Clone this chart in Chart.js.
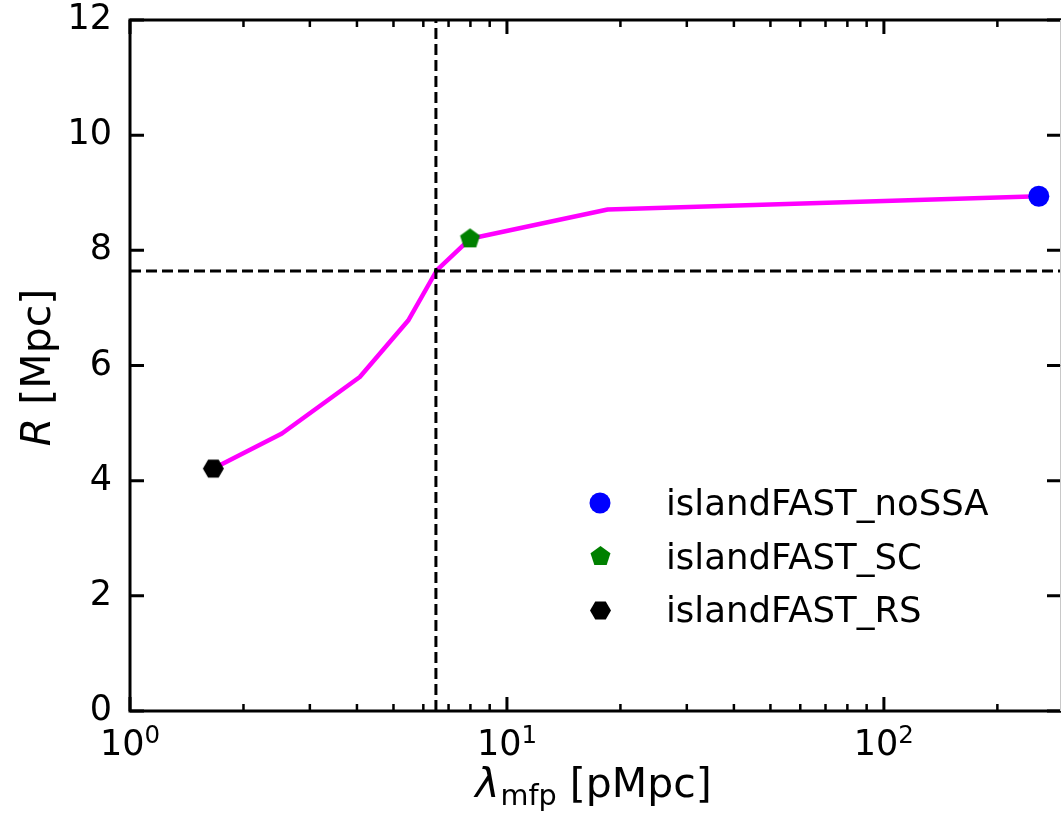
<!DOCTYPE html>
<html>
<head>
<meta charset="utf-8">
<script src="https://cdn.jsdelivr.net/npm/chart.js@4.4.1/dist/chart.umd.min.js"></script>
<style>
    html, body { margin: 0; padding: 0; background: #fff; }
    #wrap { width: 1061px; height: 815px; }
</style>
</head>
<body>
<div id="wrap"><canvas id="chart" width="1061" height="815"></canvas></div>
<script>
// Кривая R(λ_mfp), значения
const lambdaMfp = [1.664, 2.53, 4.07, 5.47, 6.51, 7.98, 18.5, 257.6];
const radiusR   = [4.21, 4.82, 5.80, 6.78, 7.65, 8.20, 8.71, 8.94];

// Отдельные прогоны (маркеры + легенда)
const runNames  = ['islandFAST_noSSA', 'islandFAST_SC', 'islandFAST_RS'];
const runLambda = [257.6, 7.98, 1.664];
const runR      = [8.94, 8.20, 4.21];
const runColors = ['#0000ff', '#008000', '#000000'];

// Пунктирные линии пересечения
const crossLambda = 6.48;
const crossR = 7.64;

// Оси
const xMin = 1, xMax = 295;
const yMin = 0, yMax = 12, yStep = 2;
const xTitle = ['λ', 'mfp', ' [pMpc]'];
const yTitle = ['R', ' [Mpc]'];

const FONT = "'DejaVu Sans'";

// Маркеры-многоугольники рисуем на отдельном canvas
function polygonMarker(sides, r, rot, color) {
    const size = Math.ceil(2 * r) + 2;
    const c = document.createElement('canvas');
    c.width = size;
    c.height = size;
    const g = c.getContext('2d');
    g.fillStyle = color;
    g.beginPath();
    for (let i = 0; i < sides; i++) {
        const a = rot + i * 2 * Math.PI / sides;
        const px = size / 2 + r * Math.sin(a);
        const py = size / 2 - r * Math.cos(a);
        if (i === 0) g.moveTo(px, py); else g.lineTo(px, py);
    }
    g.closePath();
    g.fill();
    return c;
}

const markerStyles = [
    'circle',
    polygonMarker(5, 10.5, 0, runColors[1]),
    polygonMarker(6, 10.5, Math.PI / 2, runColors[2])
];
const markerRadius = 10.5;

function drawMarker(ctx, style, color, x, y) {
    if (style === 'circle') {
        ctx.fillStyle = color;
        ctx.beginPath();
        ctx.arc(x, y, markerRadius, 0, Math.PI * 2);
        ctx.fill();
    } else {
        ctx.drawImage(style, Math.round(x - style.width / 2), Math.round(y - style.height / 2));
    }
}

function isDecade(v) {
    const e = Math.log10(v);
    return Math.abs(e - Math.round(e)) < 1e-9;
}

// Рамка, засечки внутрь, подписи осей и легенда
const decorPlugin = {
    id: 'decor',
    afterDatasetsDraw(chart) {
        const { ctx, chartArea: a, scales: { x, y } } = chart;
        ctx.save();
        ctx.strokeStyle = '#000';
        ctx.lineCap = 'butt';

        // засечки по x (снизу и сверху)
        x.ticks.forEach(t => {
            const v = t.value;
            const e = Math.floor(Math.log10(v) + 1e-9);
            const m = v / Math.pow(10, e);
            if (Math.abs(m - Math.round(m)) > 1e-6) return;
            const major = Math.round(m) === 1;
            const len = major ? 14 : 7;
            const px = x.getPixelForValue(v);
            ctx.lineWidth = major ? 3 : 2.5;
            ctx.beginPath();
            ctx.moveTo(px, a.bottom);
            ctx.lineTo(px, a.bottom - len);
            ctx.moveTo(px, a.top);
            ctx.lineTo(px, a.top + len);
            ctx.stroke();
        });

        // засечки по y (слева и справа)
        ctx.lineWidth = 3;
        y.ticks.forEach(t => {
            const py = y.getPixelForValue(t.value);
            ctx.beginPath();
            ctx.moveTo(a.left, py);
            ctx.lineTo(a.left + 14, py);
            ctx.moveTo(a.right, py);
            ctx.lineTo(a.right - 14, py);
            ctx.stroke();
        });

        // рамка
        ctx.lineWidth = 3;
        ctx.beginPath();
        ctx.moveTo(a.right, a.top);
        ctx.lineTo(a.left, a.top);
        ctx.lineTo(a.left, a.bottom);
        ctx.lineTo(a.right, a.bottom);
        ctx.stroke();
        ctx.strokeStyle = '#c8c8c8';
        ctx.lineWidth = 1;
        ctx.beginPath();
        ctx.moveTo(a.right - 0.5, a.top);
        ctx.lineTo(a.right - 0.5, a.bottom);
        ctx.stroke();
        ctx.restore();
    },
    afterDraw(chart) {
        const { ctx, chartArea: a, scales: { x } } = chart;
        ctx.save();
        ctx.fillStyle = '#000';
        ctx.textBaseline = 'alphabetic';

        // подписи делений x: 10^n
        const fTick = '35px ' + FONT;
        const fSup = '24.5px ' + FONT;
        x.ticks.filter(t => isDecade(t.value)).forEach(t => {
            const px = x.getPixelForValue(t.value);
            const exp = String(Math.round(Math.log10(t.value)));
            ctx.font = fTick; const wb = ctx.measureText('10').width;
            ctx.font = fSup;  const we = ctx.measureText(exp).width;
            const sx = px - (wb + we) / 2;
            ctx.font = fTick; ctx.fillText('10', sx, 755);
            ctx.font = fSup;  ctx.fillText(exp, sx + wb, 743);
        });

        // подпись оси x: λ_mfp [pMpc]
        const fMain = '41px ' + FONT;
        const fItal = 'italic 41px ' + FONT;
        const fSub = '28.7px ' + FONT;
        ctx.font = fItal; const w0 = ctx.measureText(xTitle[0]).width + 1;
        ctx.font = fSub;  const w1 = ctx.measureText(xTitle[1]).width;
        ctx.font = fMain; const w2 = ctx.measureText(xTitle[2]).width;
        let cx = (a.left + a.right) / 2 - 2 - (w0 + w1 + w2) / 2;
        const by = 797;
        ctx.font = fItal; ctx.fillText(xTitle[0], cx, by); cx += w0;
        ctx.font = fSub;  ctx.fillText(xTitle[1], cx, by + 8); cx += w1;
        ctx.font = fMain; ctx.fillText(xTitle[2], cx, by);

        // подпись оси y: R [Mpc]
        ctx.save();
        ctx.translate(50, (a.top + a.bottom) / 2 + 2);
        ctx.rotate(-Math.PI / 2);
        ctx.font = fItal; const r0 = ctx.measureText(yTitle[0]).width;
        ctx.font = fMain; const r1 = ctx.measureText(yTitle[1]).width;
        let ry = -(r0 + r1) / 2;
        ctx.font = fItal; ctx.fillText(yTitle[0], ry, 0); ry += r0;
        ctx.font = fMain; ctx.fillText(yTitle[1], ry, 0);
        ctx.restore();

        // легенда
        const legX = 600, legTextX = 666, legY = 503, legStep = 53.5;
        ctx.font = '35.5px ' + FONT;
        runNames.forEach((name, i) => {
            const ly = legY + i * legStep;
            drawMarker(ctx, markerStyles[i], runColors[i], legX, ly);
            ctx.fillStyle = '#000';
            ctx.fillText(name, legTextX, ly + 12);
        });
        ctx.restore();
    }
};

const runDatasets = runNames.map((name, i) => ({
    label: name,
    data: [{ x: runLambda[i], y: runR[i] }],
    showLine: false,
    pointStyle: markerStyles[i],
    pointRadius: markerRadius,
    pointHoverRadius: markerRadius,
    pointBorderWidth: 0,
    backgroundColor: runColors[i],
    borderColor: runColors[i]
}));

function noPadding(s) {
    s.paddingTop = 0;
    s.paddingBottom = 0;
    s.paddingLeft = 0;
    s.paddingRight = 0;
}

const ctx = document.getElementById('chart').getContext('2d');
new Chart(ctx, {
    type: 'scatter',
    data: {
        datasets: [
            ...runDatasets,
            {
                label: 'vline',
                data: [{ x: crossLambda, y: yMin }, { x: crossLambda, y: yMax }],
                showLine: true,
                borderColor: '#000',
                borderWidth: 3,
                borderDash: [11, 5],
                pointRadius: 0
            },
            {
                label: 'hline',
                data: [{ x: xMin, y: crossR }, { x: xMax, y: crossR }],
                showLine: true,
                borderColor: '#000',
                borderWidth: 3,
                borderDash: [11, 5],
                pointRadius: 0
            },
            {
                label: 'curve',
                data: lambdaMfp.map((v, i) => ({ x: v, y: radiusR[i] })),
                showLine: true,
                borderColor: '#ff00ff',
                borderWidth: 4.5,
                borderJoinStyle: 'round',
                pointRadius: 0
            }
        ]
    },
    options: {
        responsive: false,
        animation: false,
        events: [],
        layout: { autoPadding: false, padding: { left: 0, right: 0, top: 20, bottom: 0 } },
        plugins: {
            legend: { display: false },
            tooltip: { enabled: false }
        },
        scales: {
            x: {
                type: 'logarithmic',
                min: xMin,
                max: xMax,
                grid: { display: false, drawTicks: false },
                border: { display: false },
                ticks: { display: false, autoSkip: false },
                afterFit: s => { s.height = 104; noPadding(s); }
            },
            y: {
                type: 'linear',
                min: yMin,
                max: yMax,
                grid: { display: false, drawTicks: false },
                border: { display: false },
                ticks: {
                    stepSize: yStep,
                    padding: 18,
                    color: '#000',
                    font: { family: 'DejaVu Sans', size: 35 }
                },
                afterFit: s => { s.width = 130; noPadding(s); }
            }
        }
    },
    plugins: [decorPlugin]
});
</script>
</body>
</html>
